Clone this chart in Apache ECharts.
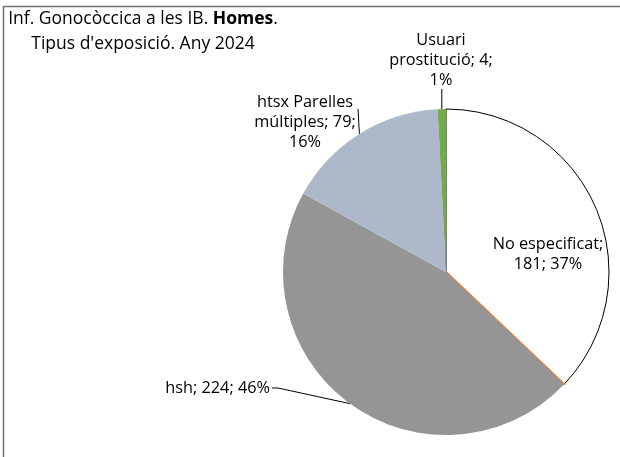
<!DOCTYPE html>
<html>
<head>
<meta charset="utf-8">
<script src="https://cdn.jsdelivr.net/npm/echarts@6/dist/echarts.min.js"></script>
<style>
html,body{margin:0;padding:0;background:#fff;}
#chart{width:620px;height:457px;}
</style>
</head>
<body>
<div id="chart"></div>
<script>
// Data (clockwise from 12 o'clock)
var categories = ['No especificat', 'Altres', 'hsh', 'htsx Parelles múltiples', 'Usuari prostitució'];
var values = [181, 0, 224, 79, 4];
var colors = ['#ffffff', '#ED7D31', '#959595', '#ADB9CA', '#70AD47'];

var FONT = '"Open Sans", "Noto Sans", sans-serif';

function fmt(p) {
  var pct = Math.round(p.percent);
  switch (p.dataIndex) {
    case 0: return 'No especificat;\n' + p.value + '; ' + pct + '%';
    case 2: return p.name + '; ' + p.value + '; ' + pct + '%';
    case 3: return 'htsx Parelles\nmúltiples; ' + p.value + ';\n' + pct + '%';
    case 4: return 'Usuari\nprostitució; ' + p.value + ';\n' + pct + '%';
  }
  return '';
}

var data = categories.map(function (c, i) {
  var item = {
    name: c,
    value: values[i],
    itemStyle: { color: colors[i], borderWidth: 0 }
  };
  if (i === 0) {
    item.itemStyle.borderColor = '#000';
    item.itemStyle.borderWidth = 1;
    item.label = { position: 'inside' };
    item.labelLine = { show: false };
  }
  if (i === 1) {
    item.itemStyle.borderColor = '#ED7D31';
    item.itemStyle.borderWidth = 2;
    item.label = { show: false };
    item.labelLine = { show: false };
  }
  return item;
});

var chart = echarts.init(document.getElementById('chart'), null, { renderer: 'canvas' });
chart.setOption({
  animation: false,
  backgroundColor: '#fff',
  graphic: [
    { type: 'line', shape: { x1: 3.5, y1: 6, x2: 3.5, y2: 457 }, style: { stroke: '#707070', lineWidth: 1.5 } },
    { type: 'line', shape: { x1: 3, y1: 6.5, x2: 620, y2: 6.5 }, style: { stroke: '#707070', lineWidth: 1.5 } },
    {
      type: 'text', x: 143, y: 7,
      style: {
        text: '{n|Inf. Gonocòccica a les IB. }{b|Homes}{n|.}\n{n|Tipus d\'exposició. Any 2024}',
        align: 'center', verticalAlign: 'top',
        rich: {
          n: { fontFamily: FONT, fontSize: 17.5, color: '#000', lineHeight: 25 },
          b: { fontFamily: FONT, fontSize: 17.5, fontWeight: 'bold', color: '#000', lineHeight: 25 }
        }
      }
    }
  ],
  series: [{
    type: 'pie',
    center: [446, 272],
    radius: 163,
    startAngle: 90,
    clockwise: true,
    avoidLabelOverlap: false,
    percentPrecision: 0,
    data: data,
    label: {
      show: true,
      position: 'outside',
      formatter: fmt,
      fontFamily: FONT,
      fontSize: 16.3,
      color: '#000',
      lineHeight: 20,
      align: 'center'
    },
    labelLine: { show: true, lineStyle: { color: '#000', width: 1 }, length: 15, length2: 5 },
    labelLayout: function (p) {
      var pts = p.labelLinePoints;
      var edge = pts ? pts[0] : null;
      switch (p.dataIndex) {
        case 0: return { x: 548, y: 254, align: 'center', verticalAlign: 'middle' };
        case 2: return { x: 270, y: 388, align: 'right', verticalAlign: 'middle',
                         labelLinePoints: [edge, [278, 388], [272, 388]] };
        case 3: return { x: 305, y: 122, align: 'center', verticalAlign: 'middle',
                         labelLinePoints: [edge, [358, 109], [358, 109]] };
        case 4: return { x: 441, y: 60, align: 'center', verticalAlign: 'middle',
                         labelLinePoints: [edge, [edge[0], 89], [edge[0], 89]] };
      }
    }
  }]
});
</script>
</body>
</html>
